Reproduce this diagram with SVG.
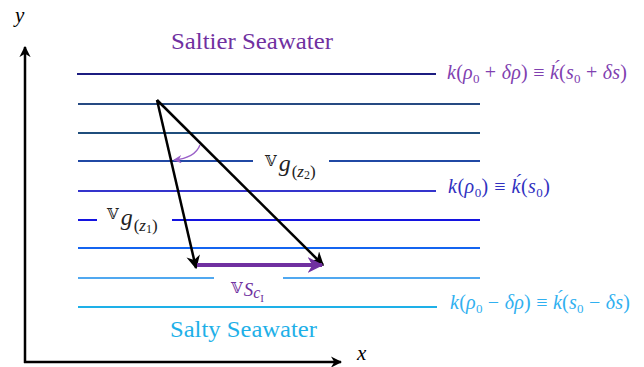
<svg xmlns="http://www.w3.org/2000/svg" width="644" height="367" viewBox="0 0 644 367">
<style>
.iso{stroke-width:2;fill:none}
.math{font-family:"Liberation Serif","DejaVu Serif",serif;font-style:italic}
.k{font-size:20px}
.up{font-style:normal}
.sub{font-size:13px;font-style:normal}
.ttl{font-family:"Liberation Serif","DejaVu Serif",serif;font-size:23px}
.vv{font-family:"DejaVu Serif","DejaVu Sans",serif;font-style:normal}
.ax{stroke:#000;stroke-width:2.5;fill:none}
.vec{stroke:#000;stroke-width:2.5;fill:none}
</style>
<defs>
<marker id="ah" viewBox="0 0 10 10" refX="9" refY="5" markerWidth="5.5" markerHeight="5.5" orient="auto" markerUnits="strokeWidth">
<path d="M0,0 L10,5 L0,10 L3,5 z" fill="#000"/>
</marker>
<marker id="ahAx" viewBox="0 0 10 10" refX="9" refY="5" markerWidth="4.5" markerHeight="4.5" orient="auto" markerUnits="strokeWidth">
<path d="M0,0 L10,5 L0,10 L3,5 z" fill="#000"/>
</marker>
<marker id="ahP" viewBox="0 0 10 10" refX="9" refY="5" markerWidth="4" markerHeight="4" orient="auto" markerUnits="strokeWidth">
<path d="M0,0 L10,5 L0,10 L3,5 z" fill="#7030a0"/>
</marker>
<marker id="ahArc" viewBox="0 0 10 10" refX="9" refY="5" markerWidth="6" markerHeight="6" orient="auto" markerUnits="strokeWidth">
<path d="M0,0 L10,5 L0,10 L3,5 z" fill="#9a60c8"/>
</marker>
</defs>

<g id="axes">
<line class="ax" x1="25" y1="363" x2="25" y2="47" marker-end="url(#ahAx)"/>
<line class="ax" x1="24" y1="362" x2="341" y2="362" marker-end="url(#ahAx)"/>
<text x="15" y="22" class="math" style="font-size:21px">y</text>
<text x="357" y="360" class="math" style="font-size:21px">x</text>
</g>

<g id="isolines">
<g id="iso1"><line class="iso" x1="77" y1="74" x2="436" y2="74" stroke="#1c1c80"/></g>
<g id="iso2"><line class="iso" x1="78" y1="104" x2="480" y2="104" stroke="#264a82"/></g>
<g id="iso3"><line class="iso" x1="78" y1="133" x2="480" y2="133" stroke="#1f4e7c"/></g>
<g id="iso4"><line class="iso" x1="78" y1="161" x2="253" y2="161" stroke="#2048a4"/><line class="iso" x1="329" y1="161" x2="480" y2="161" stroke="#2048a4"/></g>
<g id="iso5"><line class="iso" x1="78" y1="191" x2="436" y2="191" stroke="#3434cc"/></g>
<g id="iso6"><line class="iso" x1="78" y1="220" x2="97" y2="220" stroke="#1414e0"/><line class="iso" x1="172" y1="220" x2="480" y2="220" stroke="#1414e0"/></g>
<g id="iso7"><line class="iso" x1="78" y1="248" x2="480" y2="248" stroke="#1464f0"/></g>
<g id="iso8"><line class="iso" x1="78" y1="278" x2="214" y2="278" stroke="#50a8f0"/><line class="iso" x1="283" y1="278" x2="480" y2="278" stroke="#50a8f0"/></g>
<g id="iso9"><line class="iso" x1="78" y1="307" x2="437" y2="307" stroke="#1eb0e8"/></g>
</g>

<g id="connectors">
<line class="vec" x1="157" y1="100" x2="196" y2="268" marker-end="url(#ah)"/>
<line class="vec" x1="157" y1="100" x2="323" y2="265" marker-end="url(#ah)"/>
<line x1="197" y1="265" x2="322" y2="265" stroke="#7030a0" stroke-width="4" marker-end="url(#ahP)"/>
<path d="M200,145 Q195,158 174,160" stroke="#9a60c8" stroke-width="1.4" fill="none" marker-end="url(#ahArc)"/>
</g>

<g id="label-saltier"><text x="171" y="49" class="ttl" fill="#7030a0" textLength="162" lengthAdjust="spacingAndGlyphs">Saltier Seawater</text></g>
<g id="label-salty"><text x="170" y="337" class="ttl" fill="#1eb0e8" textLength="147" lengthAdjust="spacingAndGlyphs">Salty Seawater</text></g>

<g id="label-k-plus"><text x="447" y="79" class="math k" fill="#8040b0" textLength="180">k<tspan class="up">(</tspan>ρ<tspan class="sub" dy="4">0</tspan><tspan class="up" dy="-4"> + </tspan>δρ<tspan class="up">) ≡ </tspan>ḱ<tspan class="up">(</tspan>s<tspan class="sub" dy="4">0</tspan><tspan class="up" dy="-4"> + </tspan>δs<tspan class="up">)</tspan></text></g>
<g id="label-k0"><text x="448" y="193" class="math k" fill="#3030c0" textLength="102">k<tspan class="up">(</tspan>ρ<tspan class="sub" dy="4">0</tspan><tspan class="up" dy="-4">) ≡ </tspan>ḱ<tspan class="up">(</tspan>s<tspan class="sub" dy="4">0</tspan><tspan class="up" dy="-4">)</tspan></text></g>
<g id="label-k-minus"><text x="450" y="309" class="math k" fill="#30b0f0" textLength="180">k<tspan class="up">(</tspan>ρ<tspan class="sub" dy="4">0</tspan><tspan class="up" dy="-4"> − </tspan>δρ<tspan class="up">) ≡ </tspan>ḱ<tspan class="up">(</tspan>s<tspan class="sub" dy="4">0</tspan><tspan class="up" dy="-4"> − </tspan>δs<tspan class="up">)</tspan></text></g>

<g id="label-vg2"><text x="265" y="166" class="math" fill="#222" style="font-size:24px"><tspan class="vv" style="font-size:15px">𝕍</tspan><tspan dx="2" dy="5">g</tspan><tspan dx="1" dy="6" class="up" style="font-size:17px">(</tspan><tspan style="font-size:17px">z</tspan><tspan class="up" style="font-size:12px" dy="2">2</tspan><tspan class="up" style="font-size:17px" dy="-2">)</tspan></text></g>
<g id="label-vg1"><text x="107" y="219" class="math" fill="#222" style="font-size:24px"><tspan class="vv" style="font-size:15px">𝕍</tspan><tspan dx="2" dy="6">g</tspan><tspan dx="1" dy="6" class="up" style="font-size:17px">(</tspan><tspan style="font-size:17px">z</tspan><tspan class="up" style="font-size:12px" dy="2">1</tspan><tspan class="up" style="font-size:17px" dy="-2">)</tspan></text></g>
<g id="label-vsc"><text x="231" y="293" class="math" fill="#7030a0" style="font-size:19px"><tspan class="vv" style="font-size:15px">𝕍</tspan><tspan dx="1" dy="3">S</tspan><tspan dy="2" style="font-size:16px">c</tspan><tspan dy="4" class="up" style="font-size:11px">I</tspan></text></g>
</svg>
